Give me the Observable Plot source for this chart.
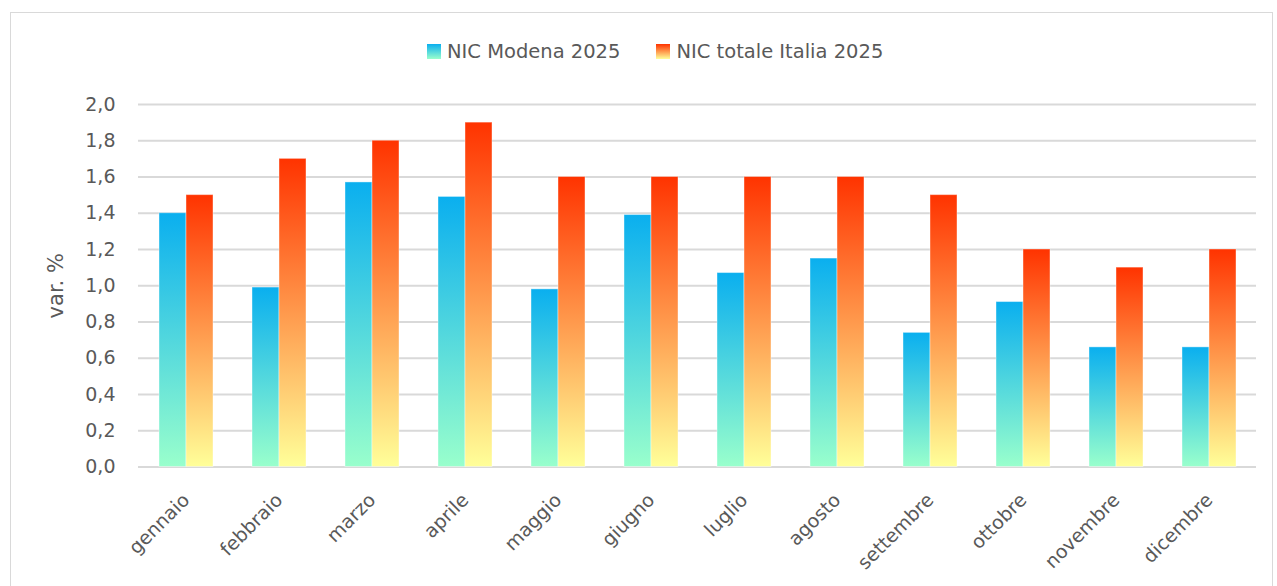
<!DOCTYPE html>
<html>
<head>
<meta charset="utf-8">
<script src="https://cdn.jsdelivr.net/npm/d3@7"></script>
<script src="https://cdn.jsdelivr.net/npm/@observablehq/plot@0.6"></script>
<style>
html, body { margin: 0; padding: 0; background: #fff; }
#wrap { position: relative; width: 1277px; height: 586px; overflow: hidden; font-family: "DejaVu Sans", sans-serif; color: #595959; }
#frame { position: absolute; left: 10px; top: 12px; width: 1263px; height: 620px; border: 1px solid #d9d9d9; box-sizing: border-box; }
#chart { position: absolute; left: 0; top: 0; }
#legend { position: absolute; top: 40px; left: 427px; display: flex; align-items: flex-start; font-size: 19.5px; line-height: 23px; white-space: nowrap; }
#legend .item { display: flex; align-items: flex-start; margin-right: 36px; }
#legend .sw { width: 14px; height: 15px; margin-top: 4px; margin-right: 6px; }
</style>
</head>
<body>
<div id="wrap">
  <div id="frame"></div>
  <div id="chart"></div>
  <div id="legend"></div>
</div>
<script>
// ---- data ----
const months = ["gennaio", "febbraio", "marzo", "aprile", "maggio", "giugno",
                "luglio", "agosto", "settembre", "ottobre", "novembre", "dicembre"];
const modena = [1.40, 0.99, 1.57, 1.49, 0.98, 1.39, 1.07, 1.15, 0.74, 0.91, 0.66, 0.66];
const italia = [1.5, 1.7, 1.8, 1.9, 1.6, 1.6, 1.6, 1.6, 1.5, 1.2, 1.1, 1.2];
const seriesNames = ["NIC Modena 2025", "NIC totale Italia 2025"];
const yTicks = [0, 0.2, 0.4, 0.6, 0.8, 1.0, 1.2, 1.4, 1.6, 1.8, 2.0];
const yLabel = "var. %";

const gradients = {
  gradModena: ["#0AAFEF", "#99FFCC"],
  gradItalia: ["#FF3300", "#FFFF99"]
};

const rowsM = months.map((m, i) => ({month: m, value: modena[i]}));
const rowsI = months.map((m, i) => ({month: m, value: italia[i]}));
const fmt = d => d.toFixed(1).replace(".", ",");

const plot = Plot.plot({
  width: 1277,
  height: 586,
  marginTop: 104,
  marginBottom: 119.5,
  marginLeft: 138,
  marginRight: 21,
  style: {fontFamily: "'DejaVu Sans', sans-serif", fontSize: "19px", color: "#595959", background: "transparent", overflow: "visible"},
  x: {domain: months, paddingInner: 0.42, paddingOuter: 0.21},
  y: {domain: [0, 2]},
  marks: [
    Plot.gridY(yTicks, {stroke: "#d9d9d9", strokeOpacity: 1, strokeWidth: 2}),
    Plot.axisY(yTicks, {tickSize: 0, tickPadding: 23, tickFormat: fmt, fontSize: 19, fill: "#595959", label: null}),
    Plot.axisX({tickSize: 0, tickPadding: 30, tickRotate: -45, fontSize: 19, fill: "#595959", label: null}),
    Plot.text([yLabel], {text: d => d, frameAnchor: "left", rotate: -90, dx: -82, fontSize: 21, fill: "#595959", textAnchor: "middle", lineAnchor: "middle"}),
    Plot.barY(rowsM, {x: "month", y: "value", fill: "url(#gradModena)", insetRight: 27, stroke: "#ffffff", strokeOpacity: 0.4, strokeWidth: 1}),
    Plot.barY(rowsI, {x: "month", y: "value", fill: "url(#gradItalia)", insetLeft: 27, stroke: "#ffffff", strokeOpacity: 0.4, strokeWidth: 1})
  ]
});

const defs = d3.select(plot).insert("defs", ":first-child");
for (const [id, [c0, c1]] of Object.entries(gradients)) {
  const g = defs.append("linearGradient").attr("id", id)
    .attr("x1", 0).attr("y1", 0).attr("x2", 0).attr("y2", 1);
  g.append("stop").attr("offset", 0).attr("stop-color", c0);
  g.append("stop").attr("offset", 1).attr("stop-color", c1);
}
document.getElementById("chart").appendChild(plot);

// legend
const legend = document.getElementById("legend");
seriesNames.forEach((name, i) => {
  const [c0, c1] = Object.values(gradients)[i];
  const item = document.createElement("div");
  item.className = "item";
  const sw = document.createElement("div");
  sw.className = "sw";
  sw.style.background = `linear-gradient(to bottom, ${c0}, ${c1})`;
  const t = document.createElement("span");
  t.textContent = name;
  item.appendChild(sw);
  item.appendChild(t);
  legend.appendChild(item);
});
</script>
</body>
</html>
